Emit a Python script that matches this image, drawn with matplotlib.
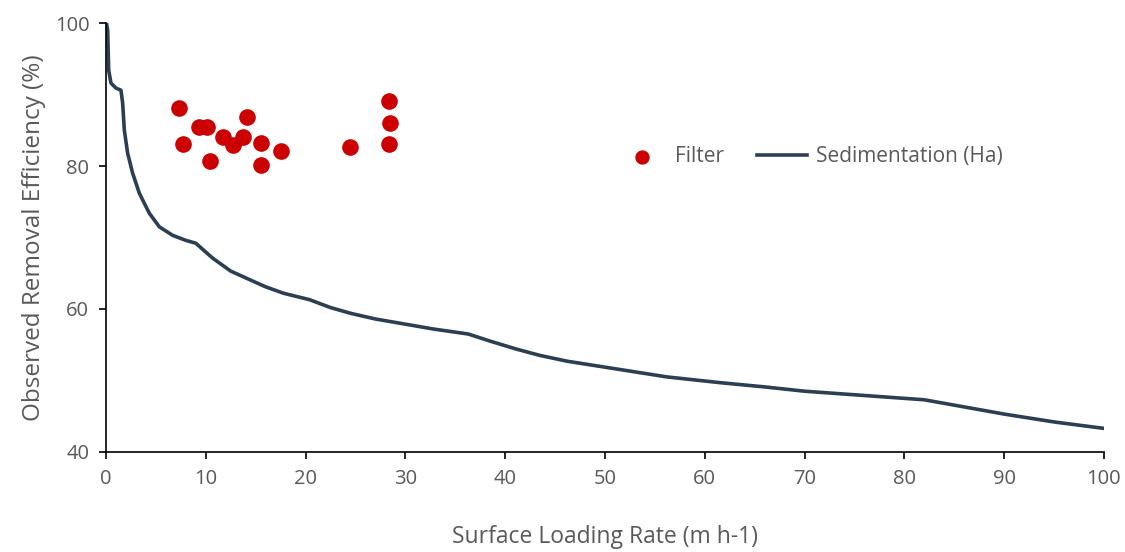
import matplotlib.pyplot as plt

# Filter observations
filter_x = [7.35, 7.75, 9.35, 10.1, 10.4, 11.75, 12.7, 13.75, 14.1, 15.5, 15.5, 17.5, 24.5, 28.4, 28.45, 28.4]
filter_y = [88.1, 83.1, 85.4, 85.5, 80.7, 84.1, 82.9, 84.0, 86.9, 83.2, 80.2, 82.1, 82.6, 89.1, 86.0, 83.1]

# Sedimentation (Ha) curve
sed_x = [0.05, 0.17, 0.27, 0.5, 1.0, 1.5, 1.67, 1.84, 2.17, 2.67, 3.34, 4.34, 5.34, 6.68,
         8.0, 9.0, 10.7, 12.5, 14.4, 16.0, 17.8, 20.4, 22.5, 24.5, 27.0, 29.5, 32.8, 36.3,
         38.5, 41.1, 43.5, 46.2, 51.2, 56.2, 61.5, 66.0, 70.0, 76.0, 82.0, 86.0, 90.0, 95.0, 100.0]
sed_y = [100.0, 99.0, 93.4, 91.6, 90.9, 90.6, 88.8, 85.0, 81.8, 79.0, 76.2, 73.4, 71.5, 70.3,
         69.6, 69.2, 67.1, 65.3, 64.1, 63.1, 62.2, 61.3, 60.2, 59.4, 58.6, 58.0, 57.2, 56.5,
         55.5, 54.4, 53.5, 52.7, 51.6, 50.5, 49.7, 49.1, 48.5, 47.9, 47.3, 46.3, 45.3, 44.2, 43.3]

grey = '#595959'
plt.rcParams['font.family'] = ['Open Sans', 'DejaVu Sans']

fig = plt.figure(figsize=(11.25, 5.52), dpi=100)
ax = fig.add_axes([0.0942, 0.1812, 0.8871, 0.7771])

ax.scatter(filter_x, filter_y, s=120, color='#CC0000', label='Filter', zorder=3)
ax.plot(sed_x, sed_y, color='#2B3F52', linewidth=2.6, label='Sedimentation (Ha)', zorder=2)

ax.set_xlim(0, 100)
ax.set_ylim(40, 100)
ax.set_xticks(range(0, 101, 10))
ax.set_yticks([40, 60, 80, 100])

for side in ['top', 'right']:
    ax.spines[side].set_visible(False)
for side in ['left', 'bottom']:
    ax.spines[side].set_linewidth(1.2)
    ax.spines[side].set_color('black')

ax.tick_params(axis='both', direction='out', length=5, width=1.2, colors='black',
               labelcolor=grey, labelsize=14.5)
ax.tick_params(axis='x', pad=7)
ax.tick_params(axis='y', pad=7)

ax.set_xlabel('Surface Loading Rate (m h-1)', color=grey, fontsize=16.5, labelpad=26)
ax.set_ylabel('Observed Removal Efficiency (%)', color=grey, fontsize=17.5, labelpad=6)

ax.legend(loc='center left', bbox_to_anchor=(0.493, 0.688), ncol=2, frameon=False,
          fontsize=15, labelcolor=grey, handlelength=2.4, columnspacing=1.6,
          handletextpad=0.4, scatterpoints=1, markerscale=0.85)

fig.savefig('out.png', dpi=100)
